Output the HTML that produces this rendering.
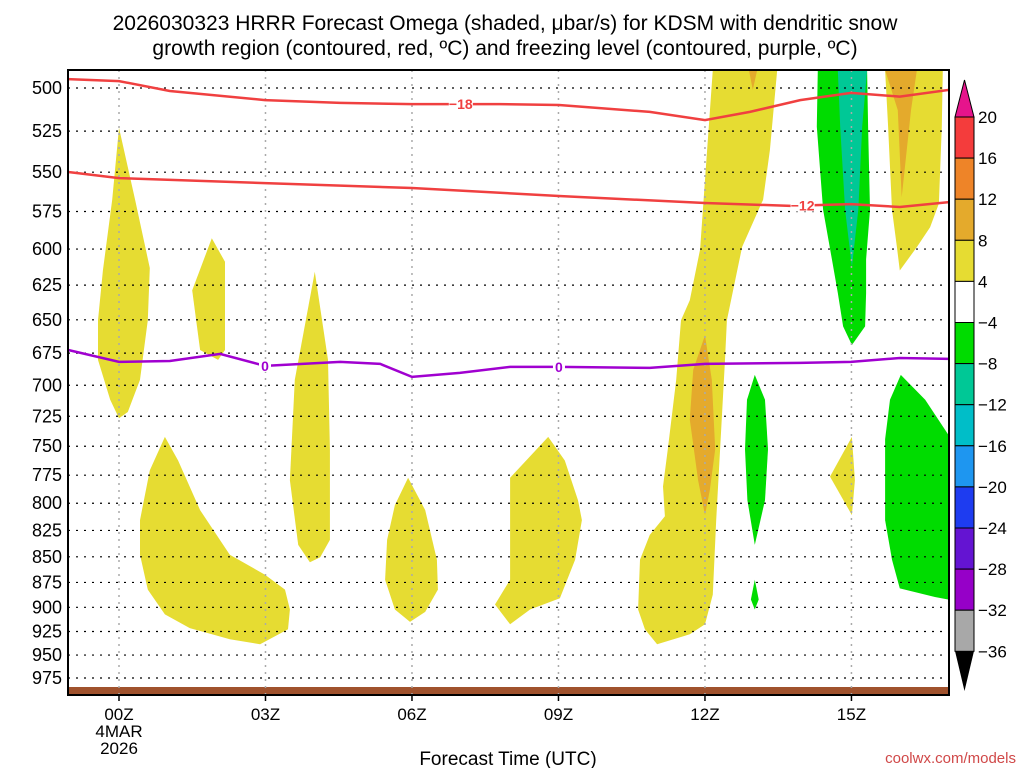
<!DOCTYPE html>
<html><head><meta charset="utf-8"><style>
body{margin:0;background:#fff;width:1024px;height:768px;overflow:hidden;font-family:"Liberation Sans",sans-serif}
</style></head><body>
<svg id="chart" width="1024" height="768" xmlns="http://www.w3.org/2000/svg" font-family="Liberation Sans, sans-serif">
<defs><clipPath id="plotclip"><rect x="68" y="70" width="881" height="625"/></clipPath></defs>
<text x="505" y="30" font-size="21" text-anchor="middle">2026030323 HRRR Forecast Omega (shaded, μbar/s) for KDSM with dendritic snow</text>
<text x="505" y="55" font-size="21" text-anchor="middle">growth region (contoured, red, ºC) and freezing level (contoured, purple, ºC)</text>
<g id="shades" clip-path="url(#plotclip)"></g><g id="grid"></g><g id="lines" clip-path="url(#plotclip)"></g><g id="axes"></g><g id="cbar"></g>
<text x="508" y="765" font-size="19" text-anchor="middle">Forecast Time (UTC)</text>
<text x="1016" y="763" font-size="15" fill="#d04848" text-anchor="end">coolwx.com/models</text>
</svg>
<script>
const pressureTicks=[500,525,550,575,600,625,650,675,700,725,750,775,800,825,850,875,900,925,950,975];
const timeTicks=[0,3,6,9,12,15];
const timeLabels=["00Z","03Z","06Z","09Z","12Z","15Z"];
const cbarLevels=[20,16,12,8,4,-4,-8,-12,-16,-20,-24,-28,-32,-36];
const cbarColors=["#f43c3c","#ee8428","#e4aa2c","#e6dc32","#ffffff","#00dc00","#00c896","#00bec8","#1e96f0","#1e3cf0","#6414d2","#9600c8","#a8a8a8"];
const yellowRegions=[
[[0,523],[0.33,567.4],[0.63,613],[0.59,650.3],[0.43,695.7],[0.18,721.5],[0,726.6],[-0.18,711.5],[-0.43,680.2],[-0.43,650.3],[-0.33,614.7],[-0.14,567.4]],
[[1.9,592.7],[2.17,608.7],[2.17,672.6],[2.03,680.2],[1.66,672.6],[1.5,628.7]],
[[4.01,615.6],[4.28,680.2],[4.32,752.6],[4.32,833.9],[4.12,850.5],[3.91,855.3],[3.67,838.6],[3.5,779.5],[3.6,695.7]],
[[0.94,742.1],[1.21,762.2],[1.66,806.2],[2.27,848.1],[2.99,867.4],[3.4,882.1],[3.5,902.2],[3.46,922.7],[2.89,938.4],[2.27,933.1],[1.45,921.4],[0.94,907.3],[0.59,882.1],[0.43,848.1],[0.43,815.4],[0.63,770.8]],
[[5.92,777.3],[6.27,806.2],[6.51,852.9],[6.53,882.1],[6.27,904.7],[5.96,915.0],[5.65,902.2],[5.45,872.3],[5.49,833.9],[5.65,801.7]],
[[8.79,742.1],[9.13,762.2],[9.4,797.2],[9.48,815.4],[9.34,852.9],[9.03,890.8],[8.42,902.2],[8.01,917.5],[7.7,897.1],[8.01,872.3],[8.01,777.3]],
[[12.16,489.9],[12.0,554.8],[11.9,600.2],[11.69,635.8],[11.51,650.3],[11.41,695.7],[11.24,752.6],[11.14,785.0],[11.18,811.9],[10.87,829.2],[10.67,852.9],[10.63,902.2],[10.77,922.7],[11.02,938.4],[11.69,927.9],[12.0,917.5],[12.16,887.1],[12.23,815.4],[12.31,752.6],[12.41,680.2],[12.45,650.3],[12.76,598.6],[13.19,567.4],[13.33,536.4],[13.48,489.9]],
[[15.01,742.1],[15.07,779.5],[15.01,810.8],[14.56,776.2]],
[[15.69,489.9],[16.87,489.9],[16.85,522.3],[16.79,569.8],[16.61,585.3],[16.34,598.6],[15.99,614.7],[15.93,598.6],[15.83,573.9],[15.75,522.3]]
];
const orangeRegions=[
[[12.0,661.4],[12.14,695.7],[12.21,752.6],[12.1,788.3],[12.0,810.8],[11.86,779.5],[11.69,727.7],[11.76,687.9]],
[[12.9,489.9],[13.07,489.9],[12.98,501.1]],
[[15.69,489.9],[16.34,489.9],[16.22,512.8],[16.03,565.8],[15.95,512.8]]
];
const greenRegions=[
[[13.02,691.8],[13.23,711.5],[13.29,752.6],[13.23,797.2],[13.02,838.6],[12.87,797.2],[12.82,752.6],[12.86,711.5]],
[[13.02,872.3],[13.1,892.1],[13.02,902.2],[12.94,892.1]],
[[16.01,691.8],[16.51,711.5],[16.98,740.0],[16.98,892.1],[16.71,889.6],[15.99,880.9],[15.83,852.9],[15.69,815.4],[15.69,744.2],[15.79,711.5]],
[[14.31,489.9],[15.32,489.9],[15.34,522.3],[15.38,573.9],[15.3,607.0],[15.3,630.5],[15.28,654.9],[15.01,668.8],[14.83,654.9],[14.72,630.5],[14.6,607.0],[14.42,573.9],[14.29,522.3]]
];
const tealRegions=[[[14.72,489.9],[15.32,489.9],[15.22,522.3],[15.14,573.9],[15.01,612.2],[14.87,573.9],[14.77,522.3]]];
const iso18Hours=[-1.04,0,1.04,2.99,4.53,6,7.8,9.01,10.87,12,12.92,13.95,14.99,15.99,17];
const iso18P=[495.0,496.1,501.7,506.9,508.5,509.2,509.2,509.7,513.7,518.5,513.7,506.9,502.8,504.9,501.1];
const iso12Hours=[-1.04,0,2.99,6,9.01,12,13.75,14.99,15.99,17];
const iso12P=[549.9,553.7,556.8,559.9,565.0,569.5,571.4,570.2,572.1,568.9];
const frzHours=[-1.04,0,1.04,2.07,2.99,4.53,5.35,6,6.98,8.01,9.01,10.87,12,13.95,14.99,15.99,17];
const frzP=[672.6,681.7,681.0,675.6,684.8,681.7,683.3,693.4,690.3,685.6,685.6,686.4,683.3,682.5,681.7,678.7,679.4];

const NS="http://www.w3.org/2000/svg";
const X0=68,X1=949,Y0=70,Y1=695;
const xs=h=>119+48.83*h;
const ys=p=>88+883.5*Math.log(p/500);
function mk(tag,attrs,parent){const e=document.createElementNS(NS,tag);for(const k in attrs)e.setAttribute(k,attrs[k]);parent.appendChild(e);return e;}
const shadesG=document.getElementById('shades');
function drawRegions(list,color,name){list.forEach((poly,i)=>{
 const e=mk('polygon',{points:poly.map(v=>xs(v[0]).toFixed(1)+','+ys(v[1]).toFixed(1)).join(' '),fill:color},shadesG);
 
 });}
drawRegions(yellowRegions,"#e6dc32","omega-4to8-region");
drawRegions(orangeRegions,"#e4aa2c","omega-8to12-region");
drawRegions(greenRegions,"#00dc00","omega-neg4to8-region");
drawRegions(tealRegions,"#00c896","omega-neg8to12-region");
const ground=mk('rect',{x:X0,y:687,width:X1-X0,height:8,fill:"#a0522d"},shadesG);



const gridG=document.getElementById('grid');
pressureTicks.forEach(p=>{const l=mk('line',{x1:X0,x2:X1,y1:ys(p),y2:ys(p),stroke:"#000","stroke-dasharray":"2,6","stroke-width":1.2},gridG);
 
 });
timeTicks.forEach(t=>{const l=mk('line',{x1:xs(t),x2:xs(t),y1:Y0,y2:Y1,stroke:"#aaa","stroke-dasharray":"2,5","stroke-width":1.5},gridG);
 
 });

const linesG=document.getElementById('lines');
function drawLine(hh,pp,color,name,labels,txt){
 const d=hh.map((h,i)=>(i?'L':'M')+xs(h).toFixed(1)+','+ys(pp[i]).toFixed(1)).join(' ');
 const e=mk('path',{d:d,fill:"none",stroke:color,"stroke-width":2.5},linesG);
 
 
 labels.forEach(li=>{
  const x=xs(li[0]),y=ys(li[1]);
  const w=txt.length>1?24:12;
  mk('rect',{x:x-w/2,y:y-6,width:w,height:12,fill:"#fff"},linesG);
  const t=mk('text',{x:x,y:y+5,"font-size":14,"font-weight":"bold",fill:color,"text-anchor":"middle"},linesG);
  t.textContent=txt;
  
  });}
drawLine(iso18Hours,iso18P,"#f04040","isotherm-minus18",[[7,509.2]],"−18");
drawLine(iso12Hours,iso12P,"#f04040","isotherm-minus12",[[14,571.2]],"−12");
drawLine(frzHours,frzP,"#a000d0","freezing-level",[[2.99,684.8],[9.01,685.6]],"0");

const axesG=document.getElementById('axes');
const plotFrame=mk('rect',{x:X0,y:Y0,width:X1-X0,height:Y1-Y0,fill:"none",stroke:"#000","stroke-width":2},axesG);


pressureTicks.forEach(p=>{const t=mk('text',{x:62,y:ys(p)+6,"font-size":18,"text-anchor":"end"},axesG);t.textContent=p;
 
 });
timeTicks.forEach((h,i)=>{mk('line',{x1:xs(h),x2:xs(h),y1:Y1,y2:Y1+6,stroke:"#000","stroke-width":1.5},axesG);
 const t=mk('text',{x:xs(h),y:720,"font-size":17,"text-anchor":"middle"},axesG);t.textContent=timeLabels[i];
 
 });
[["4MAR",737],["2026",754]].forEach(a=>{const t=mk('text',{x:119,y:a[1],"font-size":17,"text-anchor":"middle"},axesG);t.textContent=a[0];
 
 });

const cbG=document.getElementById('cbar');
const CX=955,CW=19;
const cbTop=mk('polygon',{points:`${CX},117 ${CX+CW},117 ${CX+CW/2},80`,fill:"#e6148c",stroke:"#000","stroke-width":1},cbG);


for(let i=0;i<cbarColors.length;i++){
 const y0=117+i*41.1;
 const r=mk('rect',{x:CX,y:y0,width:CW,height:41.1,fill:cbarColors[i],stroke:"#000","stroke-width":1},cbG);
 
 }
const cbBot=mk('polygon',{points:`${CX},651 ${CX+CW},651 ${CX+CW/2},691`,fill:"#000"},cbG);


cbarLevels.forEach((v,i)=>{const t=mk('text',{x:978,y:117+i*41.1+6,"font-size":17},cbG);t.textContent=v<0?'−'+(-v):v;
 
 });
</script>
</body></html>
